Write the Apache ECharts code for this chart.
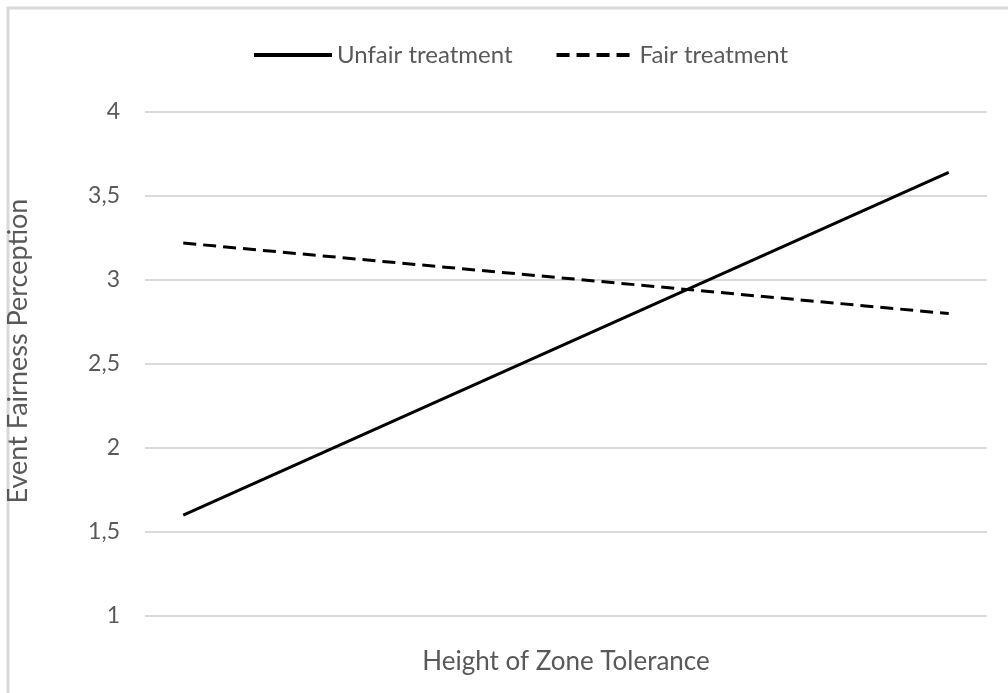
<!DOCTYPE html>
<html>
<head>
<meta charset="utf-8">
<script src="https://fastly.jsdelivr.net/npm/echarts@6/dist/echarts.min.js"></script>
<style>
  html, body { margin: 0; padding: 0; background: #fff; }
  #chartdiv { width: 1008px; height: 693px; }
</style>
</head>
<body>
<div id="chartdiv"></div>
<script>
// x positions: low and high zone tolerance
const levels = [0, 1];
const unfairValues = [1.6, 3.64];
const fairValues = [3.22, 2.8];
const yTicks = [1, 1.5, 2, 2.5, 3, 3.5, 4];

var chart = echarts.init(document.getElementById('chartdiv'));
const font = 'Lato, "Open Sans", sans-serif';

var option = {
  animation: false,
  textStyle: { fontFamily: font },
  graphic: [{
    type: 'rect',
    shape: { x: 8, y: 8, width: 1100, height: 800 },
    style: { fill: 'none', stroke: '#d9d9d9', lineWidth: 3 },
    silent: true
  }],
  legend: {
    top: 38,
    left: 247,
    itemWidth: 78,
    itemHeight: 14,
    itemGap: 42,
    itemStyle: { opacity: 0 },
    lineStyle: { width: 4 },
    textStyle: { color: '#595959', fontSize: 24, fontFamily: font },
    data: ['Unfair treatment', 'Fair treatment']
  },
  grid: { left: 145, right: 21, top: 112, bottom: 77, outerBoundsMode: 'none' },
  xAxis: {
    type: 'value',
    min: -0.05,
    max: 1.05,
    name: 'Height of Zone Tolerance',
    nameLocation: 'middle',
    nameGap: 33,
    nameTextStyle: { color: '#595959', fontSize: 26, fontFamily: font },
    axisLine: { show: false },
    axisTick: { show: false },
    axisLabel: { show: false },
    splitLine: { show: false }
  },
  yAxis: {
    type: 'value',
    min: yTicks[0],
    max: yTicks[yTicks.length - 1],
    interval: 0.5,
    name: 'Event Fairness Perception',
    nameLocation: 'middle',
    nameGap: 113,
    nameTextStyle: { color: '#595959', fontSize: 27, fontFamily: font, padding: [0, 0, 0, 26] },
    axisLine: { show: false },
    axisTick: { show: false },
    axisLabel: {
      color: '#595959',
      fontSize: 23,
      margin: 25,
      formatter: function (v) { return String(v).replace('.', ','); }
    },
    splitLine: { lineStyle: { color: '#d9d9d9', width: 2 } }
  },
  series: [
    {
      name: 'Unfair treatment',
      type: 'line',
      symbol: 'none',
      data: levels.map(function (x, i) { return [x, unfairValues[i]]; }),
      lineStyle: { color: '#000', width: 3 },
      itemStyle: { color: '#000' }
    },
    {
      name: 'Fair treatment',
      type: 'line',
      symbol: 'none',
      data: levels.map(function (x, i) { return [x, fairValues[i]]; }),
      lineStyle: { color: '#000', width: 3, type: [13, 7] },
      itemStyle: { color: '#000' }
    }
  ]
};
chart.setOption(option);
</script>
</body>
</html>
